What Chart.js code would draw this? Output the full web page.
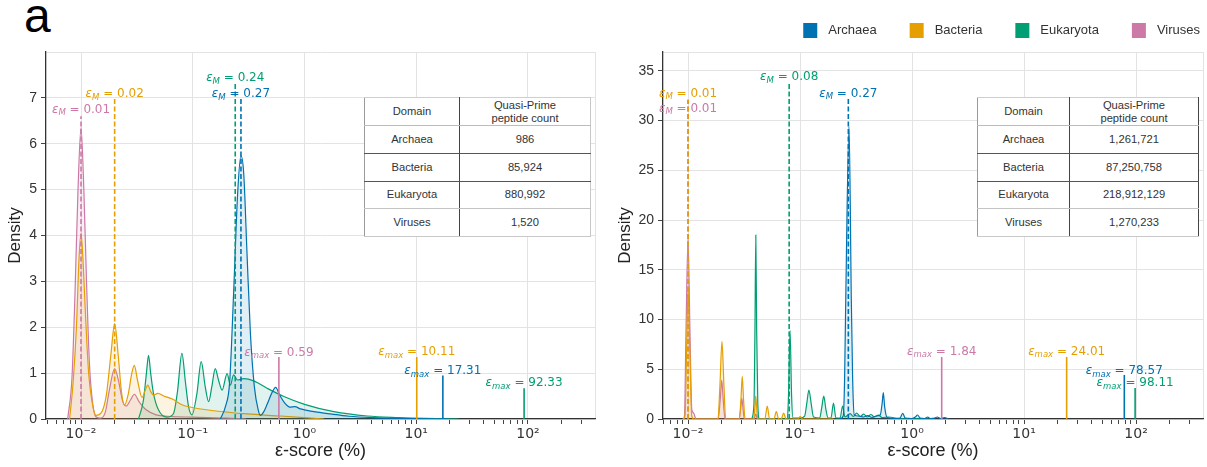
<!DOCTYPE html>
<html><head><meta charset="utf-8">
<script src="https://cdn.jsdelivr.net/npm/chart.js@4"></script>
<style>
html,body{margin:0;padding:0;background:#fff;width:1207px;height:467px;overflow:hidden;position:relative}
canvas{position:absolute;top:0}
#c1{left:0}
#c2{left:605px}
.panel{position:absolute;left:24px;top:-8px;font:48px "Liberation Sans",Arial,sans-serif;line-height:48px;color:#000}
table.tb{position:absolute;top:97px;border-collapse:collapse;table-layout:fixed;background:#fff;font:11.2px "Liberation Sans",Arial,sans-serif;color:#333}
table.tb td{padding:0;text-align:center;vertical-align:middle;border:1px solid #c4c4c4;line-height:12.7px}
</style></head>
<body>
<div class="panel">a</div>
<canvas id="c1" width="600" height="467"></canvas>
<canvas id="c2" width="602" height="467"></canvas>
<script>
// ---------- data ----------
const domains = ['Archaea', 'Bacteria', 'Eukaryota', 'Viruses'];
const colors = ['#0072B2', '#E69F00', '#009E73', '#CC79A7'];

// left panel KDE curves: [epsilon-score %, density]
const leftArchaea = [[0.1766,0],[0.196,0.27],[0.214,0.81],[0.232,2.73],[0.252,4.9],[0.270,5.74],[0.286,5.34],[0.306,3.6],[0.328,1.87],[0.356,0.70],[0.385,0.2],[0.404,0.08],[0.430,0.15],[0.463,0.32],[0.513,0.58],[0.552,0.69],[0.600,0.52],[0.67,0.34],[0.74,0.26],[0.82,0.27],[0.92,0.22],[1.0,0.2],[1.3,0.15],[1.7,0.11],[2.5,0.06],[4,0.03],[8,0.01],[20,0]];
const leftBacteria = [[0.0079,0],[0.0085,0.8],[0.0091,2.0],[0.0096,3.5],[0.0100,4.05],[0.0104,3.5],[0.0110,2.2],[0.0117,1.0],[0.0125,0.4],[0.0136,0.08],[0.0150,0.12],[0.0168,0.5],[0.0185,1.4],[0.0200,2.08],[0.0215,1.4],[0.0230,0.6],[0.0245,0.30],[0.0265,0.55],[0.0285,1.0],[0.0300,1.17],[0.0320,0.85],[0.0352,0.47],[0.0375,0.62],[0.0396,0.74],[0.0420,0.6],[0.0446,0.52],[0.0488,0.56],[0.055,0.50],[0.0664,0.43],[0.0800,0.31],[0.105,0.24],[0.154,0.18],[0.306,0.11],[0.61,0.065],[1.0,0.03],[1.5,0]];
const leftEukaryota = [[0.0327,0],[0.0362,0.41],[0.0385,1.0],[0.0402,1.39],[0.042,1.0],[0.0445,0.56],[0.0493,0.2],[0.0586,0.04],[0.0673,0.12],[0.073,0.6],[0.0800,1.43],[0.086,0.8],[0.0917,0.27],[0.0984,0.09],[0.109,0.56],[0.119,1.25],[0.1294,0.7],[0.1387,0.38],[0.148,0.7],[0.159,1.10],[0.170,0.85],[0.183,0.63],[0.203,0.99],[0.217,0.74],[0.232,0.96],[0.252,0.85],[0.286,0.88],[0.351,0.83],[0.463,0.67],[0.654,0.49],[1.0,0.32],[1.83,0.16],[3.65,0.065],[7,0.03],[12,0.012],[24,0]];
const leftViruses = [[0.0076,0],[0.0083,0.9],[0.0088,2.6],[0.0094,5.0],[0.0100,6.35],[0.0106,5.0],[0.0112,3.0],[0.0119,1.2],[0.0127,0.35],[0.0136,0.05],[0.0150,0.02],[0.0165,0.15],[0.0180,0.65],[0.0200,1.10],[0.0218,0.8],[0.0235,0.4],[0.0254,0.28],[0.0278,0.42],[0.0300,0.54],[0.0330,0.38],[0.0383,0.20],[0.047,0.09],[0.06,0.06],[0.1,0.04],[0.2,0.02],[0.3,0]];

// right panel KDE curves
const rightArchaea = [[0.225,0],[0.243,0.3],[0.250,4],[0.256,12],[0.274,29.4],[0.287,12],[0.295,4],[0.305,0.4],[0.33,0.3],[0.37,0.2],[0.40,0.35],[0.44,0.15],[0.48,0.3],[0.52,0.4],[0.540,1.5],[0.554,2.65],[0.570,1.2],[0.60,0.15],[0.70,0.05],[0.78,0.1],[0.826,0.57],[0.87,0.1],[1.0,0.05],[1.07,0.2],[1.12,0.4],[1.18,0.1],[1.3,0.05],[1.38,0.2],[1.45,0.05],[1.6,0.1],[1.68,0.2],[1.8,0.05],[1.95,0.15],[2.1,0]];
const rightBacteria = [[0.0090,0],[0.0094,0.3],[0.0097,6.5],[0.0100,13.1],[0.0104,6.5],[0.0108,0.3],[0.0113,0],[0.0185,0],[0.0193,3.5],[0.0201,7.8],[0.0209,3.5],[0.0217,0],[0.0287,0],[0.0297,2],[0.0305,4.3],[0.0313,2],[0.0323,0],[0.0386,0],[0.0395,1.1],[0.0402,2.3],[0.0410,1.1],[0.0420,0],[0.0485,0],[0.0510,1.3],[0.0535,0],[0.0585,0],[0.0614,0.75],[0.0645,0],[0.0680,0],[0.0714,0.6],[0.0750,0],[0.095,0],[0.100,0.25],[0.106,0],[0.2,0]];
const rightEukaryota = [[0.0370,0],[0.0388,1.5],[0.0396,9],[0.0403,18.5],[0.0410,9],[0.0420,1.5],[0.0435,0],[0.0770,0],[0.0790,2.5],[0.0815,8.9],[0.0840,2.5],[0.0865,0.1],[0.100,0.1],[0.110,0.3],[0.115,1.6],[0.120,2.9],[0.126,1.5],[0.132,0.2],[0.150,0.1],[0.156,1.1],[0.163,2.3],[0.170,1.0],[0.178,0.1],[0.189,0.1],[0.199,1.6],[0.209,0.1],[0.228,0.1],[0.240,1.3],[0.252,0.2],[0.28,0.55],[0.30,0.25],[0.32,0.6],[0.345,0.25],[0.37,0.5],[0.40,0.2],[0.43,0.45],[0.46,0.2],[0.50,0.4],[0.54,0.15],[0.62,0.2],[0.75,0.05],[1.0,0.02],[1.5,0]];
const rightViruses = [[0.0090,0],[0.0093,0.3],[0.0096,9],[0.0100,18.2],[0.0104,9],[0.0108,1.0],[0.0112,0.6],[0.0118,0],[0.0186,0],[0.0194,2],[0.0200,3.9],[0.0206,2],[0.0214,0],[0.0286,0],[0.0295,1.0],[0.0302,2.1],[0.0310,1.0],[0.0318,0],[0.0385,0],[0.0402,0.5],[0.0418,0],[0.06,0]];

// median (dashed) and max (solid) markers, order = domains
const leftMedian = [0.27, 0.02, 0.24, 0.01];
const leftMedianTop = [6.98, 6.98, 7.30, 6.60];
const leftMedianLabelY = [7.01, 7.01, 7.36, 6.68];
const leftMax = [17.31, 10.11, 92.33, 0.59];
const leftMaxTop = [0.95, 1.35, 0.67, 1.35];
const leftMaxLabelY = [0.98, 1.39, 0.71, 1.38];

const rightMedian = [0.27, 0.01, 0.08, 0.01];
const rightMedianTop = [32.2, 32.1, 33.7, 32.1];
const rightMedianLabelY = [32.4, 32.4, 34.05, 30.9];
const rightMax = [78.57, 24.01, 98.11, 1.84];
const rightMaxTop = [4.43, 6.24, 3.12, 6.24];
const rightMaxLabelY = [4.48, 6.44, 3.30, 6.44];

// tables
const leftCounts = ['986', '85,924', '880,992', '1,520'];
const rightCounts = ['1,261,721', '87,250,758', '218,912,129', '1,270,233'];

// axes
const leftYTicks = [0, 1, 2, 3, 4, 5, 6, 7];
const rightYTicks = [0, 5, 10, 15, 20, 25, 30, 35];

// ---------- helpers ----------
Chart.defaults.font.family = '"Liberation Sans", Arial, sans-serif';
Chart.defaults.color = '#333';

function hexA(h, a) {
  const r = parseInt(h.slice(1,3),16), g = parseInt(h.slice(3,5),16), b = parseInt(h.slice(5,7),16);
  return `rgba(${r},${g},${b},${a})`;
}
const supMap = {'-':'\u207B','0':'\u2070','1':'\u00B9','2':'\u00B2','3':'\u00B3','4':'\u2074','5':'\u2075','6':'\u2076','7':'\u2077','8':'\u2078','9':'\u2079'};
function isDecade(v) { const l = Math.log10(v); return Math.abs(l - Math.round(l)) < 1e-9; }
function decLabel(v) { const e = Math.round(Math.log10(v)); return '10' + String(e).split('').map(c => supMap[c]).join(''); }
function logTicks(min, max) {
  const t = [{value: min}];
  for (let e = -3; e <= 3; e++) for (let k = 1; k <= 9; k++) {
    const v = +(k * Math.pow(10, e)).toPrecision(6);
    if (v > min * 1.0001 && v < max * 0.9999) t.push({value: v});
  }
  t.push({value: max});
  return t;
}

const epsLabels = {
  id: 'epsLabels',
  afterDatasetsDraw(chart, args, opts) {
    const {ctx} = chart; const xs = chart.scales.x, ys = chart.scales.y;
    ctx.save();
    ctx.textBaseline = 'alphabetic'; ctx.textAlign = 'left';
    (opts.items || []).forEach(it => {
      const px = xs.getPixelForValue(it.x), py = ys.getPixelForValue(it.y);
      const f1 = 'italic 12px "DejaVu Sans"', f2 = 'italic 8.5px "DejaVu Sans"', f3 = '12px "DejaVu Sans"';
      const rest = ' = ' + it.x.toFixed(2);
      ctx.font = f1; const w1 = ctx.measureText('\u03B5').width;
      ctx.font = f2; const w2 = ctx.measureText(it.sub).width;
      ctx.font = f3; const w3 = ctx.measureText(rest).width;
      let sx = px - (w1 + w2 + w3) / 2;
      ctx.fillStyle = it.color;
      ctx.font = f1; ctx.fillText('\u03B5', sx, py); sx += w1;
      ctx.font = f2; ctx.fillText(it.sub, sx, py + 2.5); sx += w2;
      ctx.font = f3; ctx.fillText(rest, sx, py);
    });
    ctx.restore();
  }
};

const topLegend = {
  id: 'topLegend',
  afterDraw(chart, args, opts) {
    if (!opts.show) return;
    const ctx = chart.ctx;
    ctx.save();
    ctx.font = '13px "Liberation Sans", Arial, sans-serif';
    ctx.textBaseline = 'middle'; ctx.textAlign = 'left';
    let xr = chart.chartArea.right - 3;
    const yc = 30.5;
    for (let i = domains.length - 1; i >= 0; i--) {
      const tw = ctx.measureText(domains[i]).width;
      ctx.fillStyle = '#333'; ctx.fillText(domains[i], xr - tw, yc);
      const bx = xr - tw - 11 - 14;
      ctx.fillStyle = colors[i]; ctx.fillRect(bx, yc - 7.5, 14, 15);
      xr = bx - 33;
    }
    ctx.restore();
  }
};

function makeChart(id, curves, med, medTop, medLab, mx, mxTop, mxLab, xmin, xmax, ymax, yTicks, yAxisW, titlePad, padRight, showLegend) {
  const ds = [];
  domains.forEach((d, i) => {
    ds.push({label: d + ' median', data: [{x: med[i], y: 0}, {x: med[i], y: medTop[i]}], borderColor: colors[i], borderWidth: 1.6, borderDash: [5, 2.5], pointRadius: 0, fill: false, order: 0});
    ds.push({label: d + ' max', data: [{x: mx[i], y: 0}, {x: mx[i], y: mxTop[i]}], borderColor: colors[i], borderWidth: 1.6, pointRadius: 0, fill: false, order: 0});
  });
  domains.forEach((d, i) => {
    ds.push({label: d, data: curves[i].map(p => ({x: p[0], y: p[1]})), borderColor: colors[i], backgroundColor: hexA(colors[i], 0.12), borderWidth: 1.2, pointRadius: 0, fill: 'origin', cubicInterpolationMode: 'monotone', order: 1});
  });
  const items = [];
  domains.forEach((d, i) => {
    items.push({x: med[i], y: medLab[i], sub: 'M', color: colors[i]});
    items.push({x: mx[i], y: mxLab[i], sub: 'max', color: colors[i]});
  });
  return new Chart(document.getElementById(id), {
    type: 'line',
    data: {datasets: ds},
    plugins: [epsLabels, topLegend],
    options: {
      responsive: false, animation: false, parsing: true,
      layout: {padding: {top: 52, right: padRight, bottom: 0, left: 0}},
      plugins: {legend: {display: false}, tooltip: {enabled: false}, epsLabels: {items}, topLegend: {show: showLegend}},
      scales: {
        x: {
          type: 'logarithmic', min: xmin, max: xmax,
          afterBuildTicks: s => { s.ticks = logTicks(xmin, xmax); },
          afterFit: s => { s.height = 48; },
          ticks: {autoSkip: false, maxRotation: 0, padding: 2, font: {family: '"DejaVu Sans"', size: 14}, color: '#333',
            callback: v => isDecade(v) ? decLabel(v) : ''},
          grid: {
            color: c => (c.tick && (isDecade(c.tick.value) || c.tick.value === xmax)) ? '#e3e3e3' : 'rgba(0,0,0,0)',
            tickColor: c => (c.tick && c.tick.value !== xmin && c.tick.value !== xmax) ? '#444' : 'rgba(0,0,0,0)',
            tickLength: 5, lineWidth: 1, tickWidth: 1
          },
          border: {color: '#333', width: 1.3},
          title: {display: true, text: '\u03B5-score (%)', font: {size: 18}, color: '#222', padding: {top: 0, bottom: 5}}
        },
        y: {
          type: 'linear', min: 0, max: ymax,
          afterBuildTicks: s => { s.ticks = yTicks.map(v => ({value: v})).concat([{value: ymax}]); },
          afterFit: s => { s.width = yAxisW; },
          ticks: {padding: 4, font: {size: 14}, color: '#333', callback: v => (yTicks.indexOf(v) >= 0 ? String(v) : '')},
          grid: {color: '#e3e3e3', lineWidth: 1, tickLength: 5, tickColor: c => (c.tick && c.tick.value === ymax) ? 'rgba(0,0,0,0)' : '#444'},
          border: {color: '#333', width: 1.3},
          title: {display: true, text: 'Density', font: {size: 17}, color: '#222', padding: {top: titlePad, bottom: 0}}
        }
      }
    }
  });
}

makeChart('c1', [leftArchaea, leftBacteria, leftEukaryota, leftViruses], leftMedian, leftMedianTop, leftMedianLabelY, leftMax, leftMaxTop, leftMaxLabelY, 0.00486, 398, 8, leftYTicks, 46, 5.3, 5, false);
makeChart('c2', [rightArchaea, rightBacteria, rightEukaryota, rightViruses], rightMedian, rightMedianTop, rightMedianLabelY, rightMax, rightMaxTop, rightMaxLabelY, 0.00598, 396, 36.9, rightYTicks, 58, 9.8, 4, true);

// tables
function buildTable(left, w1, w2, counts, rightBorder) {
  const t = document.createElement('table');
  t.className = 'tb';
  t.style.left = left + 'px';
  t.style.width = (w1 + w2) + 'px';
  const cg = document.createElement('colgroup');
  [w1, w2].forEach(w => { const c = document.createElement('col'); c.style.width = w + 'px'; cg.appendChild(c); });
  t.appendChild(cg);
  const rows = [['Domain', 'Quasi-Prime<br>peptide count']].concat(domains.map((d, i) => [d, counts[i]]));
  const heights = [28, 27.5, 28, 27.5, 28];
  const bottoms = ['#bdbdbd', '#555', '#555', '#c4c4c4', '#c8c8c8'];
  rows.forEach((r, ri) => {
    const tr = document.createElement('tr');
    tr.style.height = heights[ri] + 'px';
    r.forEach((txt, ci) => {
      const td = document.createElement('td');
      td.innerHTML = txt;
      td.style.borderBottomColor = bottoms[ri];
      if (ri === 0) td.style.borderTopColor = '#cfcfcf';
      if (ci === 0) { td.style.borderRightColor = '#444'; td.style.borderLeftColor = '#9a9a9a'; }
      if (ci === 1) td.style.borderRightColor = rightBorder;
      tr.appendChild(td);
    });
    t.appendChild(tr);
  });
  document.body.appendChild(t);
}
buildTable(364, 95, 131, leftCounts, '#c8c8c8');
buildTable(977, 92, 129, rightCounts, '#444');
</script>
</body></html>
